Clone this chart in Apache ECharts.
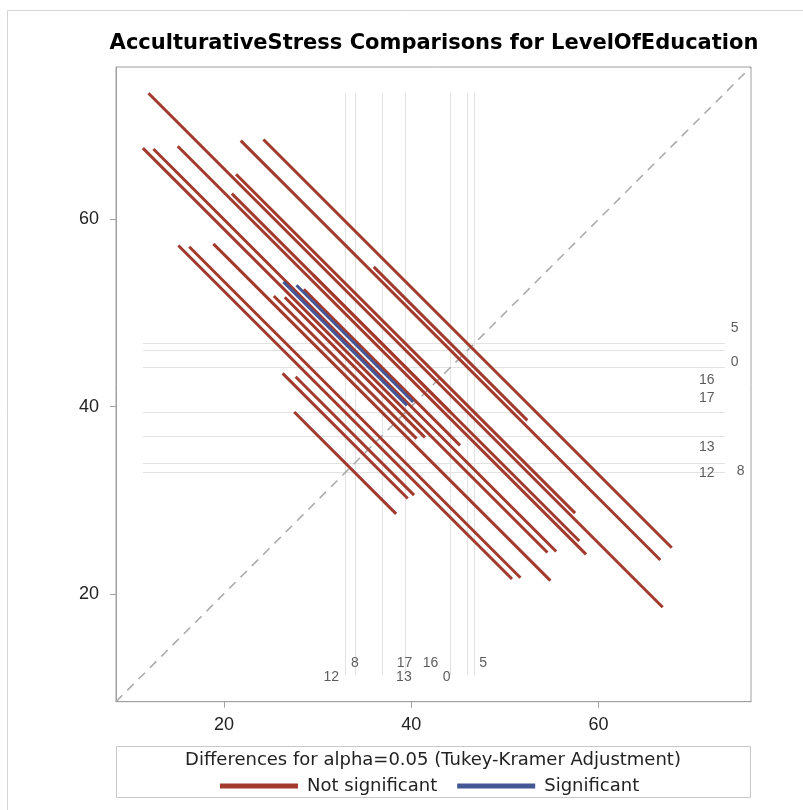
<!DOCTYPE html>
<html><head><meta charset="utf-8">
<script src="https://cdn.jsdelivr.net/npm/echarts@6/dist/echarts.min.js"></script>
<style>html,body{margin:0;padding:0;background:#fff}#c{width:803px;height:810px}</style>
</head><body><div id="c"></div>
<script>
// ---- data ----
const levels = ['12', '8', '13', '17', '16', '0', '5'];
const lsMeans = [32.95, 33.98, 36.87, 39.40, 44.20, 46.02, 46.73];
// pairwise comparisons (index into levels): lower-mean level vs higher-mean level
const pairLo = [0, 0, 0, 0, 0, 0, 1, 1, 1, 1, 1, 2, 2, 2, 2, 3, 3, 3, 4, 4, 5];
const pairHi = [1, 2, 3, 4, 5, 6, 2, 3, 4, 5, 6, 3, 4, 5, 6, 4, 5, 6, 5, 6, 6];
// half-width of the Tukey-Kramer confidence interval of each difference
const ciHalfWidth = [10.88, 13.36, 35.62, 15.24, 43.2, 13.2, 12.64, 35.36, 14.96, 43.0, 12.46,
                     35.98, 16.68, 43.6, 14.68, 37.1, 54.9, 36.2, 44.8, 16.4, 43.6];
const xTicks = [20, 40, 60];
const yTicks = [20, 40, 60];
const titleText = 'AcculturativeStress Comparisons for LevelOfEducation';
const legendTitle = 'Differences for alpha=0.05 (Tukey-Kramer Adjustment)';
const seriesNames = ['Not significant', 'Significant'];

// ---- layout (label nudges, px) ----
const bottomLabelNudge = [[-14, 2], [0, -12], [22, 2], [-1, -12], [-20, -12], [-21, 2], [9, -12]];
const rightLabelNudge = [[-18, 1], [16, 8], [-18, 11], [-18, -14], [-18, 13], [10, 12], [10, -15]];

const AX_MIN = 8.48, AX_MAX = 76.28;
const FONT = 'Liberation Sans, Arial, sans-serif';
const WIDE = 'DejaVu Sans, Liberation Sans, sans-serif';
const RED = '#A23A2E', BLUE = '#445694';

const notSig = [], sig = [];
let lo = Infinity, hi = -Infinity;
for (let k = 0; k < pairLo.length; k++) {
  const mi = lsMeans[pairLo[k]], mj = lsMeans[pairHi[k]], h = ciHalfWidth[k] / 2;
  const seg = { coords: [[mi - h, mj + h], [mi + h, mj - h]] };
  (Math.abs(mj - mi) > ciHalfWidth[k] ? sig : notSig).push(seg);
  lo = Math.min(lo, mi - h, mj - h);
  hi = Math.max(hi, mi + h, mj + h);
}
const refLines = [];
lsMeans.forEach(m => {
  refLines.push({ coords: [[m, lo], [m, hi]] });
  refLines.push({ coords: [[lo, m], [hi, m]] });
});
const lblStyle = { show: true, position: 'inside', color: '#333', fontSize: 14, fontFamily: FONT,
                   formatter: p => p.name };
const bottomLabels = levels.map((n, i) => ({ name: n, value: [lsMeans[i], lo],
  label: Object.assign({}, lblStyle, { offset: bottomLabelNudge[i] }) }));
const rightLabels = levels.map((n, i) => ({ name: n, value: [hi, lsMeans[i]],
  label: Object.assign({}, lblStyle, { offset: rightLabelNudge[i] }) }));

const axisCommon = {
  type: 'value', min: AX_MIN, max: AX_MAX,
  axisLine: { show: true, lineStyle: { color: '#a0a0a0', width: 1 } },
  axisTick: { show: true, inside: false, length: 6, lineStyle: { color: '#a0a0a0' } },
  axisLabel: { fontSize: 18, color: '#222', fontFamily: FONT, margin: 14 },
  splitLine: { show: false }
};

const chart = echarts.init(document.getElementById('c'), null, { renderer: 'canvas' });
chart.setOption({
  animation: false,
  backgroundColor: '#fff',
  grid: { left: 116, top: 67, width: 635, height: 634.7, show: true, borderColor: '#a0a0a0', borderWidth: 1 },
  xAxis: Object.assign({}, axisCommon, {
    axisTick: Object.assign({}, axisCommon.axisTick, { customValues: xTicks }),
    axisLabel: Object.assign({}, axisCommon.axisLabel, { customValues: xTicks })
  }),
  yAxis: Object.assign({}, axisCommon, {
    axisTick: Object.assign({}, axisCommon.axisTick, { customValues: yTicks }),
    axisLabel: Object.assign({}, axisCommon.axisLabel, { customValues: yTicks, margin: 17 })
  }),
  legend: {
    data: [{ name: seriesNames[0], icon: 'rect' }, { name: seriesNames[1], icon: 'rect' }],
    left: 215, top: 772, itemWidth: 76, itemHeight: 3, itemGap: 20,
    textStyle: { fontSize: 18, color: '#222', fontFamily: WIDE, padding: [0, 0, 0, 5] }
  },
  graphic: [
    { type: 'rect', shape: { x: 7.5, y: 10.5, width: 900, height: 900 }, style: { fill: 'none', stroke: '#d4d4d4', lineWidth: 1 }, silent: true },
    { type: 'text', x: 434, y: 44, style: { text: titleText, font: 'bold 21px ' + WIDE, fill: '#000', textAlign: 'center', textVerticalAlign: 'middle' } },
    { type: 'rect', shape: { x: 116.5, y: 746.5, width: 634, height: 51 }, style: { fill: 'none', stroke: '#c8c8c8', lineWidth: 1 } },
    { type: 'text', x: 433, y: 760, style: { text: legendTitle, font: '18px ' + WIDE, fill: '#222', textAlign: 'center', textVerticalAlign: 'middle' } }
  ],
  series: [
    { type: 'lines', coordinateSystem: 'cartesian2d', silent: true, z: 1,
      lineStyle: { color: '#e2e2e2', width: 1, opacity: 1 }, data: refLines },
    { type: 'lines', coordinateSystem: 'cartesian2d', silent: true, z: 2,
      lineStyle: { color: '#a8a8a8', width: 1.5, type: [9, 7], opacity: 1 },
      data: [{ coords: [[AX_MIN, AX_MIN], [AX_MAX, AX_MAX]] }] },
    { name: seriesNames[0], type: 'lines', coordinateSystem: 'cartesian2d', z: 3,
      itemStyle: { color: RED }, lineStyle: { color: RED, width: 3, opacity: 1 }, data: notSig },
    { name: seriesNames[1], type: 'lines', coordinateSystem: 'cartesian2d', z: 4,
      itemStyle: { color: BLUE }, lineStyle: { color: BLUE, width: 3, opacity: 1 }, data: sig },
    { type: 'scatter', silent: true, z: 5, symbolSize: 1, itemStyle: { color: 'rgba(0,0,0,0)' },
      data: bottomLabels.concat(rightLabels) }
  ]
});
</script></body></html>
